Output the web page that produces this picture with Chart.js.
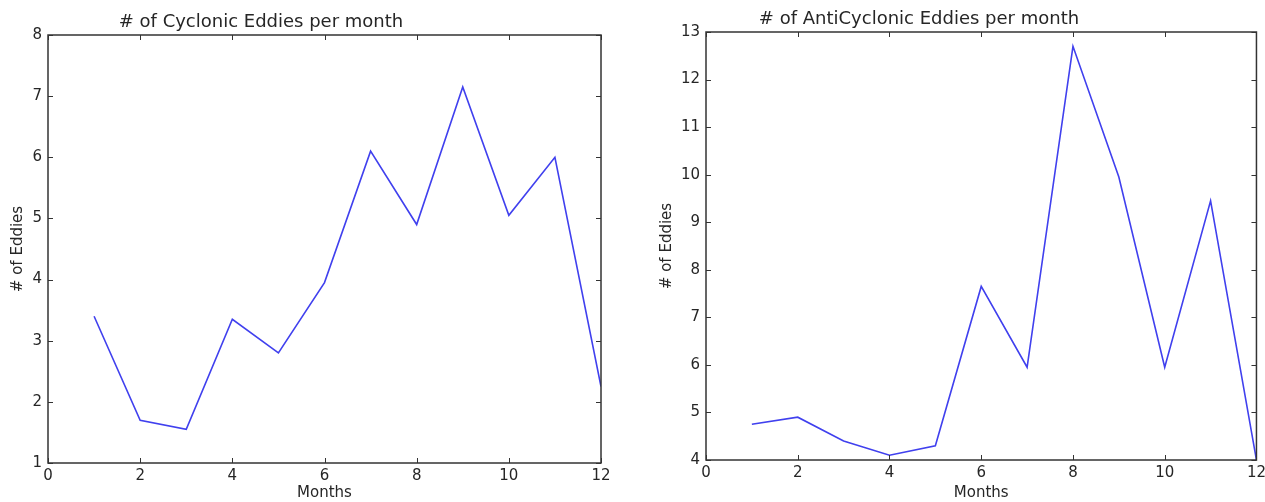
<!DOCTYPE html>
<html>
<head>
<meta charset="utf-8">
<script src="https://cdn.jsdelivr.net/npm/chart.js@4/dist/chart.umd.min.js"></script>
<style>
	html, body { margin: 0; padding: 0; background: #ffffff; overflow: hidden; }
	.box { position: absolute; top: 0; height: 502px; }
	#box-left { left: 0; width: 630px; }
	#box-right { left: 632px; width: 638px; }
</style>
</head>
<body>
<div class="box" id="box-left"><canvas id="cyclonic-chart"></canvas></div>
<div class="box" id="box-right"><canvas id="anticyclonic-chart"></canvas></div>
<script>
const months = [1, 2, 3, 4, 5, 6, 7, 8, 9, 10, 11, 12];
const cyclonicCounts = [3.4, 1.7, 1.55, 3.35, 2.8, 3.95, 6.1, 4.9, 7.15, 5.05, 6.0, 2.25];
const antiCyclonicCounts = [4.75, 4.9, 4.4, 4.1, 4.3, 7.65, 5.95, 12.7, 9.95, 5.95, 9.45, 4.0];
const monthTicks = [0, 2, 4, 6, 8, 10, 12];
const cyclonicTicks = [1, 2, 3, 4, 5, 6, 7, 8];
const antiCyclonicTicks = [4, 5, 6, 7, 8, 9, 10, 11, 12, 13];

const textColor = '#262626';
const frameColor = '#333333';

// matplotlib style frame: box round the plot, ticks pointing in on all four sides
const framePlugin = {
	id: 'frame',
	afterDraw(chart, args, opts) {
		const ctx = chart.ctx;
		const a = chart.chartArea;
		const xs = chart.scales.x;
		const ys = chart.scales.y;
		ctx.save();
		ctx.strokeStyle = frameColor;
		ctx.lineWidth = 1.5;
		ctx.strokeRect(a.left, a.top, a.right - a.left, a.bottom - a.top);
		ctx.lineWidth = 1;
		ctx.beginPath();
		xs.ticks.forEach(function(t) {
			const px = Math.round(xs.getPixelForValue(t.value)) + 0.5;
			ctx.moveTo(px, a.bottom); ctx.lineTo(px, a.bottom - 5);
			ctx.moveTo(px, a.top); ctx.lineTo(px, a.top + 5);
		});
		ys.ticks.forEach(function(t) {
			const py = Math.round(ys.getPixelForValue(t.value)) + 0.5;
			ctx.moveTo(a.left, py); ctx.lineTo(a.left + 5, py);
			ctx.moveTo(a.right, py); ctx.lineTo(a.right - 5, py);
		});
		ctx.stroke();

		// title sits left of centre, as in the picture
		ctx.fillStyle = textColor;
		ctx.font = '18px "DejaVu Sans"';
		ctx.textAlign = 'center';
		ctx.textBaseline = 'alphabetic';
		ctx.fillText(opts.text, a.left + 213, a.top - 8);
		ctx.restore();
	}
};

function makeConfig(values, yTicks, title, yWidth, xHeight, padRight, padTop, yTitlePad) {
	return {
		type: 'line',
		data: {
			datasets: [{
				data: months.map(function(m, i) { return { x: m, y: values[i] }; }),
				borderColor: '#4040ee',
				borderWidth: 1.6,
				pointRadius: 0,
				tension: 0,
				fill: false
			}]
		},
		options: {
			responsive: true,
			maintainAspectRatio: false,
			animation: false,
			layout: {
				padding: { left: 0, right: padRight, top: padTop, bottom: 0 }
			},
			plugins: {
				legend: { display: false },
				tooltip: { enabled: false },
				frame: { text: title }
			},
			scales: {
				x: {
					type: 'linear',
					min: monthTicks[0],
					max: monthTicks[monthTicks.length - 1],
					afterBuildTicks: function(scale) {
						scale.ticks = monthTicks.map(function(v) { return { value: v }; });
					},
					afterFit: function(scale) { scale.height = xHeight; },
					grid: { display: false, drawTicks: false, tickLength: 0 },
					border: { display: false },
					ticks: {
						color: textColor,
						padding: 4,
						maxRotation: 0,
						font: { family: 'DejaVu Sans', size: 15 }
					},
					title: {
						display: true,
						text: 'Months',
						color: textColor,
						padding: { top: 0, bottom: 0 },
						font: { family: 'DejaVu Sans', size: 15 }
					}
				},
				y: {
					type: 'linear',
					min: yTicks[0],
					max: yTicks[yTicks.length - 1],
					afterBuildTicks: function(scale) {
						scale.ticks = yTicks.map(function(v) { return { value: v }; });
					},
					afterFit: function(scale) { scale.width = yWidth; },
					grid: { display: false, drawTicks: false, tickLength: 0 },
					border: { display: false },
					ticks: {
						color: textColor,
						padding: 6,
						font: { family: 'DejaVu Sans', size: 15 }
					},
					title: {
						display: true,
						text: '# of Eddies',
						color: textColor,
						padding: { top: yTitlePad, bottom: 0 },
						font: { family: 'DejaVu Sans', size: 15 }
					}
				}
			}
		},
		plugins: [framePlugin]
	};
}

const leftChart = new Chart(
	document.getElementById('cyclonic-chart'),
	makeConfig(cyclonicCounts, cyclonicTicks, '# of Cyclonic Eddies per month', 48, 39, 29, 35, 9)
);

const rightChart = new Chart(
	document.getElementById('anticyclonic-chart'),
	makeConfig(antiCyclonicCounts, antiCyclonicTicks, '# of AntiCyclonic Eddies per month', 74, 42, 9, 32, 26)
);
</script>
</body>
</html>
